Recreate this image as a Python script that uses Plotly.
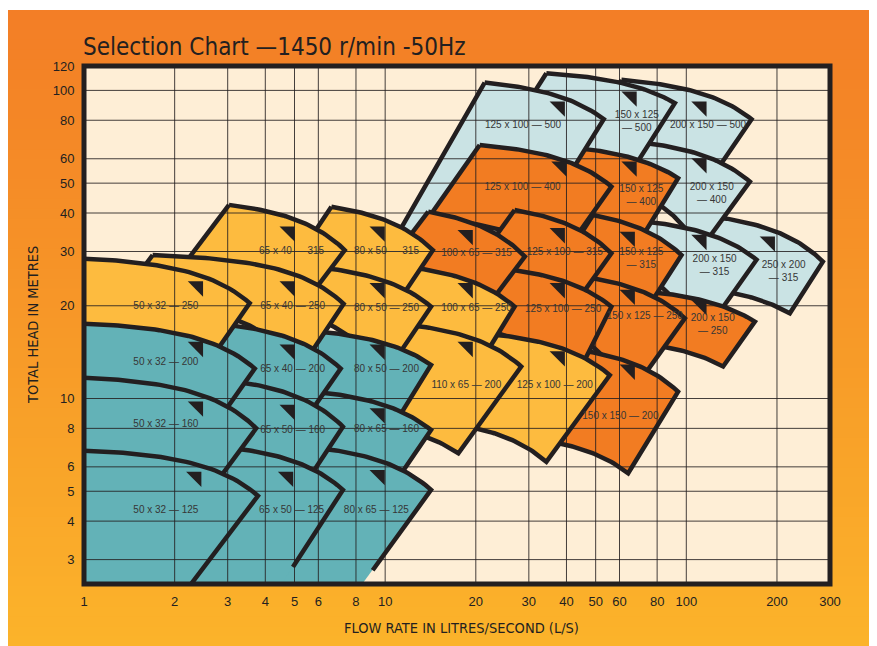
import numpy as np
import plotly.graph_objects as go

# ---------------- axis values ----------------
x_tick_vals = [1, 2, 3, 4, 5, 6, 8, 10, 20, 30, 40, 50, 60, 80, 100, 200, 300]
y_tick_vals = [3, 4, 5, 6, 8, 10, 20, 30, 40, 50, 60, 80, 100, 120]
x_grid_vals = [2, 3, 4, 5, 6, 8, 10, 20, 30, 40, 50, 60, 80, 100, 200]
y_grid_vals = [3, 4, 5, 6, 8, 10, 20, 30, 40, 50, 60, 80, 100]

# ---------------- pump coverage tiles (drawn right-to-left, top-to-bottom) ----------------
tile_labels = [
    "250 x 200<br>— 315",
    "200 x 150 — 500", "200 x 150<br>— 400", "200 x 150<br>— 315", "200 x 150<br>— 250",
    "150 x 125<br>— 500", "150 x 125<br>— 400", "150 x 125<br>— 315", "150 x 125 — 250", "150 x 150 — 200",
    "125 x 100 — 500", "125 x 100 — 400", "125 x 100 — 315", "125 x 100 — 250", "125 x 100 — 200",
    "100 x 65 — 315", "100 x 65 — 250", "110 x 65 — 200",
    "80 x 50 — 315", "80 x 50 — 250", "80 x 50 — 200", "80 x 65 — 160", "80 x 65 — 125",
    "65 x 40 — 315", "65 x 40 — 250", "65 x 40 — 200", "65 x 50 — 160", "65 x 50 — 125",
    "50 x 32 — 250", "50 x 32 — 200", "50 x 32 — 160", "50 x 32 — 125",
]
tile_family = [
    "blue",
    "blue", "blue", "blue", "orange",
    "blue", "orange", "orange", "orange", "orange",
    "blue", "orange", "orange", "orange", "yellow",
    "orange", "yellow", "yellow",
    "yellow", "yellow", "teal", "teal", "teal",
    "yellow", "yellow", "teal", "teal", "teal",
    "yellow", "teal", "teal", "teal",
]
# top-left corner of the maximum-impeller curve
tl_q = [102.7, 60.9, 64.9, 64.9, 64.9, 34.3, 38.0, 49.0, 38.0, 38.0,
        21.4, 20.6, 26.9, 19.1, 19.1, 13.9, 6.54, 10.35,
        6.63, 3.31, 5.20, 5.40, 5.20, 3.03, 1.69, 2.93, 2.93, 2.71,
        0.83, 0.83, 0.83, 0.83]
tl_h = [39.7, 108.2, 68.5, 38.0, 22.5, 113.7, 65.9, 39.4, 25.4, 14.65,
        106.0, 66.5, 40.9, 27.0, 16.4, 40.4, 27.9, 17.6,
        41.9, 27.7, 16.7, 10.6, 7.01, 42.5, 29.2, 17.4, 11.48, 7.01,
        28.7, 17.65, 11.79, 6.83]
# end (tip) of the maximum-impeller curve
tip_q = [284.1, 164.7, 162.6, 171.1, 168.9, 91.6, 93.9, 96.4, 98.9, 93.9,
         53.2, 56.4, 56.4, 56.4, 55.7, 29.1, 26.9, 28.3,
         14.4, 14.2, 14.2, 14.2, 14.2, 7.34, 7.28, 7.12, 7.24, 7.24,
         3.55, 3.69, 3.73, 3.78]
tip_h = [27.8, 80.6, 50.6, 28.2, 17.76, 90.9, 51.9, 29.2, 18.2, 10.52,
         80.6, 48.7, 29.6, 19.86, 11.9, 28.9, 19.86, 12.7,
         30.3, 19.86, 12.85, 7.90, 5.05, 30.3, 20.3, 12.5, 8.10, 5.05,
         20.4, 12.5, 8.0, 4.83]
# end of the minimum-impeller curve
br_q = [220.7, 110.9, 110.9, 110.9, 132.5, 60.1, 62.5, 70.1, 64.9, 64.1,
        38.0, 38.0, 38.0, 41.0, 34.3, 19.1, 19.1, 17.5,
        10.35, 9.96, 9.96, 9.59, 6.86, 5.20, 5.20, 5.0, 5.0, 3.79,
        2.42, 2.51, 2.42, 1.84]
br_h = [18.9, 45.8, 30.3, 15.5, 12.7, 47.5, 27.1, 18.0, 10.26, 5.72,
        47.5, 28.2, 17.3, 10.66, 6.23, 16.7, 11.48, 6.64,
        18.7, 11.9, 7.33, 4.51, 1.91, 19.4, 12.4, 7.61, 4.68, 1.91,
        11.9, 7.33, 4.51, 1.91]
# start of the minimum-impeller curve
bl_q = [102.7, 44.3, 51.6, 55.7, 51.6, 22.5, 32.6, 35.6, 32.6, 30.2,
        10.5, 13.9, 18.1, 15.2, 15.2, 9.09, 5.20, 6.54,
        4.74, 2.51, 3.98, 4.13, 2.82, 2.14, 1.31, 2.24, 2.24, 1.92,
        0.83, 0.83, 0.83, 0.83]
bl_h = [23.1, 64.1, 51.2, 28.2, 15.6, 59.5, 40.9, 24.25, 18.0, 7.44,
        31.5, 38.5, 23.9, 18.0, 8.4, 23.4, 18.0, 8.56,
        25.7, 20.9, 9.89, 5.86, 1.91, 27.1, 20.9, 9.89, 6.31, 1.91,
        12.4, 8.51, 5.44, 1.91]
# bottom row of small pumps: outline stops part way down the right edge
edge_end_q = [None] * 22 + [9.09] + [None] * 4 + [4.94] + [None] * 3 + [1.84]
edge_end_h = [None] * 22 + [2.77] + [None] * 4 + [2.84] + [None] * 3 + [1.91]
# label and marker positions
label_q = [210.4, 118.1, 121.5, 124.1, 122.4, 68.5, 70.9, 70.9, 72.8, 60.4,
           28.7, 28.6, 39.5, 39.0, 36.6, 20.1, 20.1, 18.6,
           10.1, 10.1, 10.1, 10.1, 9.35, 4.89, 4.93, 4.93, 4.93, 4.89,
           1.87, 1.87, 1.87, 1.87]
label_h = [25.7, 76.9, 46.0, 26.9, 17.3, 79.2, 45.5, 28.4, 18.4, 8.73,
           76.9, 48.4, 29.7, 19.5, 11.0, 29.6, 19.6, 11.0,
           30.0, 19.6, 12.4, 7.96, 4.32, 30.0, 19.9, 12.4, 7.90, 4.32,
           19.9, 13.1, 8.25, 4.32]
marker_q = [189.4, 112.3, 112.3, 112.3, 112.3, 65.8, 65.8, 64.9, 64.9, 64.9,
            38.0, 38.5, 38.0, 38.0, 38.0, 18.8, 18.8, 18.8,
            9.59, 9.59, 9.59, 9.59, 9.59, 4.82, 4.82, 4.82, 4.82, 4.76,
            2.39, 2.39, 2.39, 2.36]
marker_h = [32.3, 88.6, 58.0, 32.7, 20.1, 95.5, 56.6, 33.5, 21.7, 12.4,
            88.6, 56.6, 34.4, 22.8, 13.7, 33.9, 22.8, 14.7,
            34.8, 22.8, 14.4, 8.95, 5.64, 34.8, 23.1, 14.4, 9.18, 5.57,
            23.1, 14.7, 9.41, 5.57]

family_color = {"teal": "#63B2B7", "yellow": "#FDBB3F", "orange": "#F27C22", "blue": "#CAE3E4"}
INK = "#231F20"


def pump_curve(q1, h1, q2, h2, n=48):
    k = (h1 - h2) / (q2 ** 2 - q1 ** 2)
    h0 = h1 + k * q1 ** 2
    q = np.geomspace(q1, q2, n)
    return q, h0 - k * q ** 2


fig = go.Figure()

for i, name in enumerate(tile_labels):
    qa, ha = pump_curve(tl_q[i], tl_h[i], tip_q[i], tip_h[i])
    qb, hb = pump_curve(bl_q[i], bl_h[i], br_q[i], br_h[i])
    xs = np.concatenate([qa, qb[::-1], qa[:1]])
    ys = np.concatenate([ha, hb[::-1], ha[:1]])
    col = family_color[tile_family[i]]
    if edge_end_q[i] is None:
        fig.add_trace(go.Scatter(x=xs, y=ys, mode="lines", fill="toself", fillcolor=col,
                                 line=dict(color=INK, width=4.5), hoverinfo="skip", showlegend=False))
    else:
        fig.add_trace(go.Scatter(x=xs, y=ys, mode="lines", fill="toself", fillcolor=col,
                                 line=dict(color=col, width=0), hoverinfo="skip", showlegend=False))
        fig.add_trace(go.Scatter(x=np.append(qa, edge_end_q[i]), y=np.append(ha, edge_end_h[i]),
                                 mode="lines", line=dict(color=INK, width=4.5),
                                 hoverinfo="skip", showlegend=False))

# grid lines drawn over the tiles
gx, gy = [], []
for v in x_grid_vals:
    gx += [v, v, None]
    gy += [2.5, 120, None]
for v in y_grid_vals:
    gx += [1, 300, None]
    gy += [v, v, None]
fig.add_trace(go.Scatter(x=gx, y=gy, mode="lines", line=dict(color="rgba(35,31,32,0.85)", width=1),
                         hoverinfo="skip", showlegend=False))

# direction markers
fig.add_trace(go.Scatter(x=marker_q, y=marker_h, mode="markers",
                         marker=dict(symbol="triangle-ne", size=17, color=INK, line=dict(width=0)),
                         hoverinfo="skip", showlegend=False))

# tile labels
fig.add_trace(go.Scatter(x=label_q, y=label_h, mode="text", text=tile_labels,
                         textfont=dict(family="Liberation Sans, Arial, sans-serif", size=10, color="#363636"),
                         textposition="middle center", hoverinfo="skip", showlegend=False))

# ---------------- background (page body adds an 8px offset) ----------------
L, R, T, B = 76, 55, 58, 62
W, H = 877, 638
pw, ph = W - L - R, H - T - B
shapes = []
n_bands = 64
top_rgb = np.array([243, 126, 38])
bot_rgb = np.array([252, 180, 43])
y_top_px, y_bot_px = 2, H
for j in range(n_bands):
    p0 = y_top_px + (y_bot_px - y_top_px) * j / n_bands
    p1 = y_top_px + (y_bot_px - y_top_px) * (j + 1) / n_bands + 1
    c = top_rgb + (bot_rgb - top_rgb) * (j + 0.5) / n_bands
    shapes.append(dict(type="rect", xref="paper", yref="paper",
                       x0=(0 - L) / pw, x1=(W - L) / pw + 0.01,
                       y0=(H - B - p1) / ph, y1=(H - B - p0) / ph,
                       fillcolor="rgb(%d,%d,%d)" % tuple(c.astype(int)), line=dict(width=0), layer="below"))
shapes.append(dict(type="rect", xref="paper", yref="paper", x0=0, x1=1, y0=0, y1=1,
                   fillcolor="#FEEED6", line=dict(width=0), layer="below"))
shapes.append(dict(type="rect", xref="paper", yref="paper", x0=0, x1=1, y0=0, y1=1,
                   fillcolor="rgba(0,0,0,0)", line=dict(color=INK, width=5), layer="above"))

narrow = "Liberation Sans Narrow, Arial Narrow, DejaVu Sans Condensed, sans-serif"
annotations = [
    dict(text="Selection Chart —1450 r/min -50Hz", xref="paper", yref="paper",
         x=(73 - L) / pw, y=(H - B - 39) / ph, xanchor="left", yanchor="middle", showarrow=False,
         font=dict(family=narrow, size=24, color=INK)),
    dict(text="TOTAL HEAD IN METRES", xref="paper", yref="paper",
         x=(25 - L) / pw, y=(H - B - 317) / ph, xanchor="center", yanchor="middle", showarrow=False,
         textangle=-90, font=dict(family=narrow, size=14.5, color=INK)),
    dict(text="FLOW RATE IN LITRES/SECOND (L/S)", xref="paper", yref="paper",
         x=(453 - L) / pw, y=(H - B - 620) / ph, xanchor="center", yanchor="middle", showarrow=False,
         font=dict(family=narrow, size=14.5, color=INK)),
]

tickfont = dict(family="Liberation Sans, Arial, sans-serif", size=13, color=INK)
fig.update_layout(
    width=W, height=H, margin=dict(l=L, r=R, t=T, b=B),
    paper_bgcolor="white", plot_bgcolor="#FEEED6",
    shapes=shapes, annotations=annotations, showlegend=False,
    xaxis=dict(type="log", range=[0, np.log10(300)], tickvals=x_tick_vals,
               ticktext=[str(v) for v in x_tick_vals], showgrid=False, zeroline=False, showline=False,
               ticks="outside", ticklen=5, tickcolor="rgba(0,0,0,0)", tickfont=tickfont),
    yaxis=dict(type="log", range=[np.log10(2.5), np.log10(120)], tickvals=y_tick_vals,
               ticktext=[str(v) for v in y_tick_vals], showgrid=False, zeroline=False, showline=False,
               ticks="outside", ticklen=6, tickcolor="rgba(0,0,0,0)", tickfont=tickfont),
)

fig.write_html("out.html")
